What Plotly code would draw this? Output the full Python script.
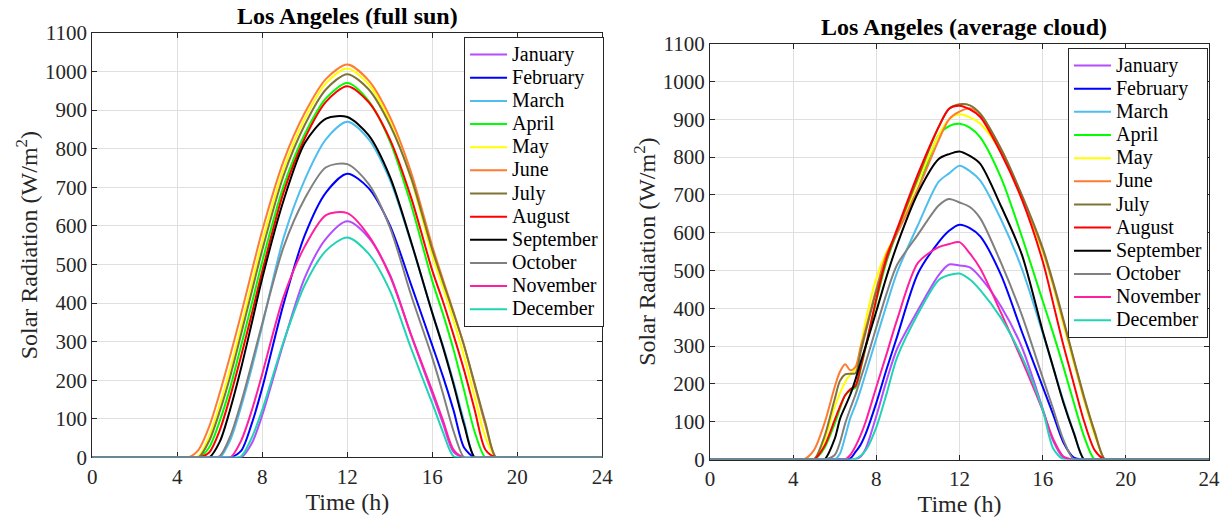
import plotly.graph_objects as go

MONTHS = ["January", "February", "March", "April", "May", "June", "July",
          "August", "September", "October", "November", "December"]
COLORS = ["#b34dff", "#0000ff", "#4dbeee", "#00ff00", "#ffff00", "#ff7a33",
          "#7f7335", "#ff0000", "#000000", "#808080", "#ff1fa0", "#20d4b4"]

# ---- Full sun (left panel) ----
SUN_T = [0, 4, 4.5, 5, 5.5, 6, 6.5, 7, 7.5, 8, 9, 10, 11, 12, 13, 14, 15, 16,
         16.5, 17, 17.5, 18, 18.5, 19, 19.5, 20, 24]
SUN_JAN = [0, 0, 0, 0, 0, 0, 0, 0, 36, 110, 297, 466, 567, 612, 570, 474, 317, 165, 88, 14, 0, 0, 0, 0, 0, 0, 0]
SUN_FEB = [0, 0, 0, 0, 0, 0, 0, 17, 87, 181, 398, 576, 687, 735, 698, 602, 448, 290, 210, 122, 25, 0, 0, 0, 0, 0, 0]
SUN_MAR = [0, 0, 0, 0, 0, 0, 46, 131, 231, 342, 569, 720, 825, 870, 825, 720, 557, 375, 290, 195, 92, 0, 0, 0, 0, 0, 0]
SUN_APR = [0, 0, 0, 0, 26, 95, 183, 289, 397, 508, 703, 838, 931, 970, 924, 820, 655, 457, 372, 279, 173, 65, 0, 0, 0, 0, 0]
SUN_MAY = [0, 0, 0, 4, 55, 137, 232, 339, 450, 560, 747, 878, 970, 1008, 967, 870, 721, 523, 440, 354, 261, 156, 52, 0, 0, 0, 0]
SUN_JUN = [0, 0, 0, 20, 80, 168, 266, 371, 481, 589, 768, 893, 981, 1018, 977, 883, 739, 547, 461, 377, 289, 185, 83, 0, 0, 0, 0]
SUN_JUL = [0, 0, 0, 0, 43, 120, 212, 319, 429, 538, 730, 862, 954, 993, 954, 862, 725, 538, 455, 374, 289, 190, 90, 0, 0, 0, 0]
SUN_AUG = [0, 0, 0, 0, 13, 71, 160, 262, 371, 483, 687, 827, 922, 962, 921, 825, 674, 484, 404, 317, 225, 122, 20, 0, 0, 0, 0]
SUN_SEP = [0, 0, 0, 0, 0, 41, 127, 231, 347, 465, 666, 815, 878, 882, 835, 728, 559, 374, 286, 189, 84, 0, 0, 0, 0, 0, 0]
SUN_OCT = [0, 0, 0, 0, 0, 4, 56, 142, 243, 348, 545, 671, 752, 760, 709, 597, 421, 258, 166, 68, 0, 0, 0, 0, 0, 0, 0]
SUN_NOV = [0, 0, 0, 0, 0, 0, 0, 43, 121, 217, 416, 547, 628, 633, 575, 471, 318, 172, 96, 20, 0, 0, 0, 0, 0, 0, 0]
SUN_DEC = [0, 0, 0, 0, 0, 0, 0, 3, 51, 124, 300, 447, 536, 570, 528, 433, 283, 140, 66, 3, 0, 0, 0, 0, 0, 0, 0]

# ---- Average cloud (right panel) ----
CLOUD_T = [0, 4.5, 5, 5.5, 6, 6.25, 6.5, 6.75, 7, 7.25, 7.5, 8, 8.5, 9, 10, 11, 11.5,
           12, 12.5, 13, 14, 15, 16, 16.5, 17, 17.5, 18, 18.5, 19, 19.5, 24]
CLD_JAN = [0, 0, 0, 0, 0, 0, 0, 0, 0, 8, 30, 115, 210, 293, 395, 488, 516, 513, 508, 482, 405, 297, 135, 50, 5, 0, 0, 0, 0, 0, 0]
CLD_FEB = [0, 0, 0, 0, 0, 0, 0, 3, 20, 40, 70, 150, 240, 325, 492, 575, 605, 621, 612, 590, 488, 338, 193, 120, 45, 5, 0, 0, 0, 0, 0]
CLD_MAR = [0, 0, 0, 0, 0, 15, 60, 110, 145, 185, 230, 320, 410, 495, 620, 735, 757, 777, 763, 738, 635, 505, 335, 245, 155, 72, 0, 0, 0, 0, 0]
CLD_APR = [0, 0, 0, 30, 95, 135, 170, 183, 190, 240, 300, 420, 525, 600, 715, 858, 882, 888, 878, 852, 745, 590, 420, 335, 245, 150, 60, 0, 0, 0, 0]
CLD_MAY = [0, 0, 0, 50, 140, 175, 205, 225, 240, 300, 370, 480, 550, 600, 735, 858, 900, 913, 905, 888, 815, 690, 550, 460, 355, 255, 155, 65, 0, 0, 0]
CLD_JUN = [0, 0, 25, 95, 192, 232, 252, 236, 245, 298, 348, 452, 545, 598, 715, 845, 900, 920, 929, 912, 818, 695, 555, 465, 365, 262, 160, 75, 0, 0, 0]
CLD_JUL = [0, 0, 0, 60, 160, 208, 225, 227, 228, 285, 340, 445, 530, 605, 745, 880, 928, 940, 937, 915, 822, 700, 560, 470, 370, 265, 165, 72, 0, 0, 0]
CLD_AUG = [0, 0, 0, 35, 105, 140, 170, 186, 195, 245, 302, 425, 535, 610, 755, 880, 928, 936, 926, 906, 810, 688, 525, 415, 302, 200, 100, 25, 0, 0, 0]
CLD_SEP = [0, 0, 0, 0, 55, 107, 140, 172, 212, 258, 302, 392, 485, 568, 705, 795, 808, 815, 803, 782, 670, 542, 340, 245, 150, 70, 0, 0, 0, 0, 0]
CLD_OCT = [0, 0, 0, 0, 12, 45, 95, 135, 172, 215, 258, 350, 440, 515, 595, 672, 689, 680, 668, 638, 520, 382, 217, 135, 52, 0, 0, 0, 0, 0, 0]
CLD_NOV = [0, 0, 0, 0, 0, 0, 0, 12, 35, 65, 102, 192, 280, 370, 520, 562, 570, 575, 545, 505, 388, 263, 130, 55, 8, 0, 0, 0, 0, 0, 0]
CLD_DEC = [0, 0, 0, 0, 0, 0, 0, 0, 2, 10, 25, 85, 175, 270, 385, 475, 488, 492, 476, 448, 374, 272, 132, 30, 0, 0, 0, 0, 0, 0, 0]

SUN = [SUN_JAN, SUN_FEB, SUN_MAR, SUN_APR, SUN_MAY, SUN_JUN,
       SUN_JUL, SUN_AUG, SUN_SEP, SUN_OCT, SUN_NOV, SUN_DEC]
CLD = [CLD_JAN, CLD_FEB, CLD_MAR, CLD_APR, CLD_MAY, CLD_JUN,
       CLD_JUL, CLD_AUG, CLD_SEP, CLD_OCT, CLD_NOV, CLD_DEC]

X_TICKS = [0, 4, 8, 12, 16, 20, 24]
Y_TICKS = list(range(0, 1101, 100))

FONT = "Liberation Serif, Times New Roman, serif"
INK = "#262626"

fig = go.Figure()
for i, m in enumerate(MONTHS):
    label = f'<span style="font-size:20px">{m}</span>'
    fig.add_trace(go.Scatter(x=SUN_T, y=SUN[i], mode="lines", name=label,
                             line=dict(color=COLORS[i], width=2, shape="spline", smoothing=0.8),
                             xaxis="x", yaxis="y", legend="legend"))
for i, m in enumerate(MONTHS):
    label = f'<span style="font-size:20px">{m}</span>'
    fig.add_trace(go.Scatter(x=CLOUD_T, y=CLD[i], mode="lines", name=label,
                             line=dict(color=COLORS[i], width=2, shape="spline", smoothing=0.8),
                             xaxis="x2", yaxis="y2", legend="legend2"))

def xax(domain, anchor):
    return dict(domain=domain, anchor=anchor, range=[0, 24], tickvals=X_TICKS,
                ticks="inside", ticklen=5, tickcolor=INK, showline=True, linecolor=INK,
                linewidth=1, mirror="ticks", showgrid=True, gridcolor="#dfdfdf",
                zeroline=False, layer="below traces", automargin=False,
                tickfont=dict(family=FONT, size=21, color=INK),
                title=dict(text="Time (h)", font=dict(family=FONT, size=24, color=INK), standoff=0))

def yax(domain, anchor):
    return dict(domain=domain, anchor=anchor, range=[0, 1100], tickvals=Y_TICKS,
                ticks="inside", ticklen=5, tickcolor=INK, showline=True, linecolor=INK,
                linewidth=1, mirror="ticks", showgrid=True, gridcolor="#dfdfdf",
                zeroline=False, layer="below traces", automargin=False,
                tickfont=dict(family=FONT, size=21, color=INK),
                title=dict(text="Solar Radiation (W/m<sup>2</sup>)",
                           font=dict(family=FONT, size=24, color=INK), standoff=0))

leg_common = dict(font=dict(family=FONT, size=15.5, color="#000000"), bgcolor="white",
                  bordercolor=INK, borderwidth=1, itemwidth=37, tracegroupgap=0,
                  xanchor="right", yanchor="top")

fig.update_layout(
    width=1229, height=520, autosize=False,
    margin=dict(l=0, r=0, t=0, b=0, pad=0, autoexpand=False),
    paper_bgcolor="white", plot_bgcolor="white",
    xaxis=xax([0.0751, 0.4901], "y"),
    yaxis=yax([0.1202, 0.9367], "x"),
    xaxis2=xax([0.5777, 0.9837], "y2"),
    yaxis2=yax([0.1163, 0.9160], "x2"),
    legend=dict(x=0.4915, y=0.9288, **leg_common),
    legend2=dict(x=0.9829, y=0.9077, **leg_common),
    annotations=[
        dict(text="<b>Los Angeles (full sun)</b>", xref="paper", yref="paper",
             x=0.2826, y=0.969, xanchor="center", yanchor="middle", showarrow=False,
             font=dict(family=FONT, size=24, color="#000000")),
        dict(text="<b>Los Angeles (average cloud)</b>", xref="paper", yref="paper",
             x=0.7843, y=0.948, xanchor="center", yanchor="middle", showarrow=False,
             font=dict(family=FONT, size=24, color="#000000")),
    ],
)

fig.write_html("out.html")
